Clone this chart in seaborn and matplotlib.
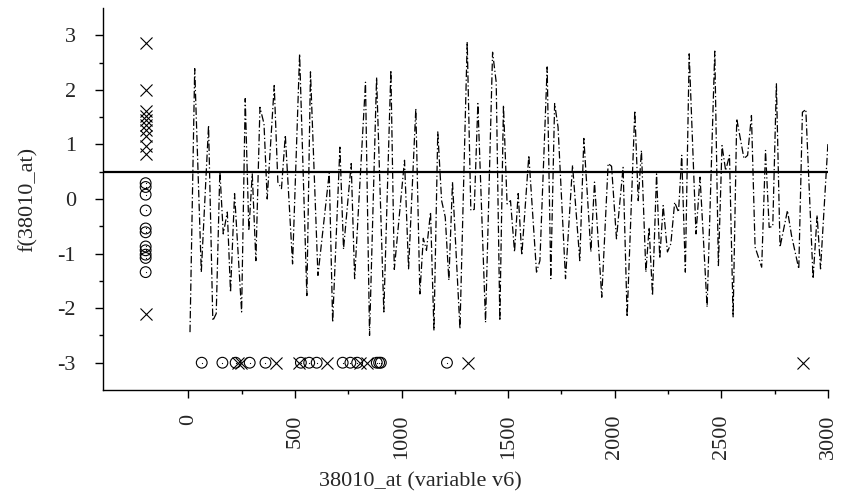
import numpy as np
import pandas as pd
import seaborn as sns
import matplotlib.pyplot as plt
from matplotlib.ticker import FixedLocator

# Fitted curve f(38010_at)
line_x = [8, 30, 61, 95, 115, 131, 148, 164, 183, 198, 217, 250, 267, 284, 300,
          317, 336, 355, 370, 403, 420, 437, 455, 489, 522, 556, 573, 608, 661,
          677, 711, 728, 764, 780, 831, 850, 883, 917, 950, 966, 1014, 1033, 1067,
          1086, 1102, 1117, 1136, 1152, 1170, 1188, 1205, 1222, 1239, 1274, 1308,
          1325, 1341, 1358, 1394, 1427, 1444, 1461, 1478, 1495, 1511, 1530, 1547,
          1564, 1597, 1633, 1649, 1683, 1700, 1718, 1734, 1769, 1802, 1836, 1855,
          1888, 1905, 1939, 1969, 1985, 2008, 2039, 2058, 2094, 2110, 2125, 2146,
          2161, 2177, 2196, 2211, 2227, 2247, 2263, 2281, 2299, 2314, 2331, 2349,
          2381, 2400, 2433, 2469, 2486, 2503, 2520, 2538, 2555, 2572, 2606, 2623,
          2641, 2658, 2689, 2707, 2724, 2741, 2758, 2775, 2810, 2829, 2863, 2880,
          2896, 2930, 2949, 2965, 3000]
line_y = [-2.44, 2.39, -1.34, 1.35, -2.23, -2.10, 0.52, -0.64, -0.24, -1.71, 0.10,
          -2.07, 1.84, -0.58, 0.46, -1.13, 1.68, 1.38, 0.00, 2.08, 0.31, 0.19, 1.17,
          -1.19, 2.66, -1.77, 2.33, -1.40, 0.48, -2.26, 0.95, -0.92, 0.65, -1.46,
          2.14, -2.50, 2.23, -2.07, 2.36, -1.29, 0.71, -1.28, 1.66, -1.74, -0.72,
          -0.94, -0.24, -2.41, 1.23, -0.03, -0.33, -1.49, 0.31, -2.38, 2.88, -0.21,
          -0.19, 1.75, -2.26, 2.69, 2.14, -2.23, 1.72, -0.09, -0.03, -0.97, 0.10,
          -1.03, 0.80, -1.34, -1.13, 2.42, -1.46, 1.75, 1.32, -1.46, 0.62, -1.13,
          1.11, -0.97, 0.31, -1.80, 0.65, 0.60, -0.73, 0.58, -2.16, 1.62, -0.03,
          0.89, -1.34, -0.52, -1.77, 0.46, -1.09, -0.12, -0.97, -0.82, -0.06, -0.24,
          0.80, -1.34, 2.66, -0.64, 0.40, -1.98, 2.71, -1.22, 0.98, 0.52, 0.80,
          -2.16, 1.47, 0.74, 0.80, 1.53, -0.88, -1.25, 0.89, -0.52, -0.50, 2.11,
          -0.88, -0.21, -0.67, -1.28, 1.59, 1.64, -1.46, -0.30, -1.28, 1.04]

# Observed values of the gene, split by class (shown along the bottom)
obs_circle_x = [63, 160, 222, 288, 362, 528, 567, 602, 724, 760, 792, 884, 895, 903, 1213]
obs_cross_x = [234, 246, 413, 518, 650, 806, 840, 1314, 2882]

# Responses, split by class (shown on the left)
resp_cross_y = [2.85, 1.99, 1.62, 1.53, 1.44, 1.35, 1.26, 1.15, 0.98, 0.83, -2.10]
resp_circle_y = [0.29, 0.22, 0.08, -0.21, -0.54, -0.61, -0.87, -0.94, -1.02, -1.08, -1.34]

rug_y = -3
rug_x = -200
threshold = 0.5

sns.set_style("ticks")
plt.rcParams["font.family"] = ["Liberation Serif", "DejaVu Serif"]
plt.rcParams["axes.unicode_minus"] = False

fig, ax = plt.subplots(figsize=(8.41, 4.98), dpi=100)
fig.subplots_adjust(left=103 / 841, right=828 / 841, bottom=1 - 390 / 498, top=1 - 8 / 498)

sns.lineplot(x=line_x, y=line_y, sort=False, estimator=None, color="black",
             lw=0.9, linestyle=(0, (6, 2, 1, 2)), ax=ax)
ax.axhline(threshold, color="black", lw=1.6)

circ_kw = dict(marker="o", s=60, facecolor="none", edgecolor="black", linewidth=0.8, ax=ax)
dot_kw = dict(marker=".", s=3, color="black", linewidth=0, ax=ax)
cross_kw = dict(marker="x", s=75, color="black", linewidth=0.8, ax=ax)

sns.scatterplot(x=obs_circle_x, y=[rug_y] * len(obs_circle_x), **circ_kw)
sns.scatterplot(x=obs_circle_x, y=[rug_y] * len(obs_circle_x), **dot_kw)
sns.scatterplot(x=obs_cross_x, y=[rug_y] * len(obs_cross_x), **cross_kw)

sns.scatterplot(x=[rug_x] * len(resp_circle_y), y=resp_circle_y, **circ_kw)
sns.scatterplot(x=[rug_x] * len(resp_circle_y), y=resp_circle_y, **dot_kw)
sns.scatterplot(x=[rug_x] * len(resp_cross_y), y=resp_cross_y, **cross_kw)

ax.set_xlim(-400, 3000)
ax.set_ylim(-3.5, 3.5)
ax.set_xticks(np.arange(0, 3001, 500))
ax.set_yticks(np.arange(-3, 4, 1))
ax.xaxis.set_minor_locator(FixedLocator(np.arange(250, 3000, 500)))
ax.yaxis.set_minor_locator(FixedLocator(np.arange(-2.5, 3, 1)))
ax.tick_params(which="major", length=5.5, width=1, labelsize=16, color="black")
ax.tick_params(which="minor", length=3, width=1, color="black")
ax.tick_params(axis="x", which="major", pad=12, labelrotation=90)
ax.tick_params(axis="y", which="major", pad=14)
for sp in ax.spines.values():
    sp.set_linewidth(1)
    sp.set_color("black")
sns.despine(ax=ax)

ax.set_xlabel("38010_at (variable v6)", fontsize=16)
ax.set_ylabel("f(38010_at)", fontsize=16)
ax.xaxis.set_label_coords((420.5 - 103) / 725, -(472 - 390) / 382)
ax.yaxis.set_label_coords(-(38 - 103) / -725, 0.5)

fig.savefig("out.png", dpi=100)
